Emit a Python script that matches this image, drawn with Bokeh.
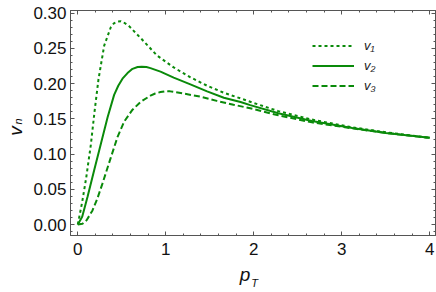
import math
from bokeh.plotting import figure
from bokeh.models import (Range1d, FixedTicker, PrintfTickFormatter, LinearAxis,
                          Legend, LegendItem)
from bokeh.embed import file_html
from bokeh.resources import INLINE

# ---- data ----
pt_v1 = [0.0, 0.05, 0.095, 0.148, 0.19, 0.235, 0.30, 0.375, 0.41, 0.45, 0.49, 0.52, 0.58,
         0.65, 0.72, 0.90, 1.09, 1.28, 1.47, 1.66, 1.85, 2.0, 2.28, 2.66, 3.12, 3.5, 4.0]
v1 = [0.0, 0.032, 0.066, 0.113, 0.160, 0.206, 0.254, 0.280, 0.2855, 0.288, 0.2885, 0.287,
      0.282, 0.273, 0.264, 0.240, 0.223, 0.209, 0.197, 0.187, 0.179, 0.1725, 0.161, 0.149,
      0.138, 0.131, 0.123]

pt_v2 = [0.0, 0.05, 0.11, 0.186, 0.261, 0.338, 0.413, 0.46, 0.508, 0.565, 0.622, 0.68, 0.727,
         0.78, 0.826, 0.94, 1.09, 1.28, 1.47, 1.66, 1.85, 1.96, 2.28, 2.66, 3.12, 3.5, 4.0]
v2 = [0.0, 0.011, 0.039, 0.077, 0.114, 0.152, 0.184, 0.197, 0.207, 0.215, 0.221, 0.2235,
      0.224, 0.2235, 0.222, 0.217, 0.2085, 0.199, 0.189, 0.180, 0.174, 0.1695, 0.158, 0.147,
      0.137, 0.130, 0.123]

pt_v3 = [0.0, 0.053, 0.10, 0.167, 0.22, 0.28, 0.375, 0.451, 0.527, 0.622, 0.713, 0.826,
         0.88, 0.94, 1.0, 1.05, 1.2, 1.39, 1.58, 1.77, 1.96, 2.28, 2.66, 3.12, 3.5, 4.0]
v3 = [0.0, 0.001, 0.006, 0.020, 0.036, 0.058, 0.095, 0.124, 0.146, 0.163, 0.174, 0.183,
      0.186, 0.188, 0.1893, 0.189, 0.186, 0.1816, 0.1755, 0.170, 0.165, 0.155, 0.145, 0.1365,
      0.130, 0.123]

series_labels = ["v\u2081", "v\u2082", "v\u2083"]
x_ticks = [0, 1, 2, 3, 4]
y_ticks = [0.0, 0.05, 0.10, 0.15, 0.20, 0.25, 0.30]

GREEN = "#0a8a0a"
FRAME = "#555555"
NB = "\u00a0"

p = figure(width=436, height=292, output_backend="svg", toolbar_location=None,
           x_range=Range1d(-0.083, 4.066), y_range=Range1d(-0.0156, 0.3038),
           min_border_left=70, min_border_right=1, min_border_top=10, min_border_bottom=57)
p.xgrid.visible = False
p.ygrid.visible = False
p.outline_line_color = FRAME
p.outline_line_width = 1
p.background_fill_color = "white"
p.border_fill_color = "white"

x_minor = [round(i * 0.2, 2) for i in range(-1, 21)]
y_minor = [round(i * 0.01, 2) for i in range(-1, 31)]
xt = FixedTicker(ticks=x_ticks, minor_ticks=x_minor)
yt = FixedTicker(ticks=y_ticks, minor_ticks=y_minor)

def style_axis(ax):
    ax.axis_line_color = FRAME
    ax.major_tick_line_color = FRAME
    ax.minor_tick_line_color = FRAME
    ax.major_tick_in = 4
    ax.major_tick_out = 0
    ax.minor_tick_in = 2
    ax.minor_tick_out = 0
    ax.major_label_text_font = "Liberation Sans"
    ax.major_label_text_font_size = "17px"
    ax.major_label_text_color = "#111111"

def style_title(ax, size, standoff):
    ax.axis_label_text_font = "Liberation Sans"
    ax.axis_label_text_font_style = "italic"
    ax.axis_label_text_font_size = size
    ax.axis_label_text_color = "#111111"
    ax.axis_label_text_line_height = 1.0
    ax.axis_label_standoff = standoff

p.xaxis.ticker = xt
p.yaxis.ticker = yt
p.yaxis.formatter = PrintfTickFormatter(format="%.2f")
style_axis(p.xaxis[0])
style_axis(p.yaxis[0])
p.xaxis.major_label_standoff = 7
p.yaxis.major_label_standoff = 4

# axis titles p_T and v_n: main letter / subscript split over two axes
p.xaxis.axis_label = "p" + NB * 3
style_title(p.xaxis[0], "19px", 6)
p.yaxis.axis_label = NB + "n"
style_title(p.yaxis[0], "11px", 6)

def bare_axis(label, size, standoff):
    ax = LinearAxis(ticker=FixedTicker(ticks=[], minor_ticks=[]))
    ax.axis_line_color = None
    ax.major_tick_in = 0
    ax.major_tick_out = 0
    ax.minor_tick_in = 0
    ax.minor_tick_out = 0
    ax.major_label_standoff = 0
    ax.axis_label = label
    style_title(ax, size, standoff)
    return ax

p.add_layout(bare_axis(NB + "T", "11px", -11), "below")
p.add_layout(bare_axis("v" + NB * 3, "19px", -16), "left")

# mirrored tick marks on the top and right frame edges (no labels)
def tick_only_axis(tick_positions, length):
    ax = LinearAxis(ticker=FixedTicker(ticks=[], minor_ticks=tick_positions))
    ax.axis_line_color = FRAME
    ax.minor_tick_line_color = FRAME
    ax.minor_tick_in = length
    ax.minor_tick_out = 0
    ax.major_tick_in = 0
    ax.major_tick_out = 0
    ax.major_label_standoff = 0
    return ax

p.add_layout(tick_only_axis(x_minor, 2), "above")
p.add_layout(tick_only_axis(x_ticks, 4), "above")
p.add_layout(tick_only_axis(y_minor, 2), "right")
p.add_layout(tick_only_axis(y_ticks, 4), "right")

r1 = p.line(pt_v1, v1, line_color=GREEN, line_width=2, line_dash="3 3")
r2 = p.line(pt_v2, v2, line_color=GREEN, line_width=2)
r3 = p.line(pt_v3, v3, line_color=GREEN, line_width=2, line_dash="6 3")

legend = Legend(items=[LegendItem(label=series_labels[0], renderers=[r1]),
                       LegendItem(label=series_labels[1], renderers=[r2]),
                       LegendItem(label=series_labels[2], renderers=[r3])],
                location=(242, 141), glyph_width=42, glyph_height=17, label_height=17,
                label_standoff=10, spacing=3, padding=0, margin=0,
                border_line_color=None, background_fill_alpha=0,
                label_text_font="Liberation Sans", label_text_font_style="italic",
                label_text_font_size="13px", label_text_color="#222222")
p.add_layout(legend, "center")

open("out.html", "w").write(file_html(p, INLINE))
